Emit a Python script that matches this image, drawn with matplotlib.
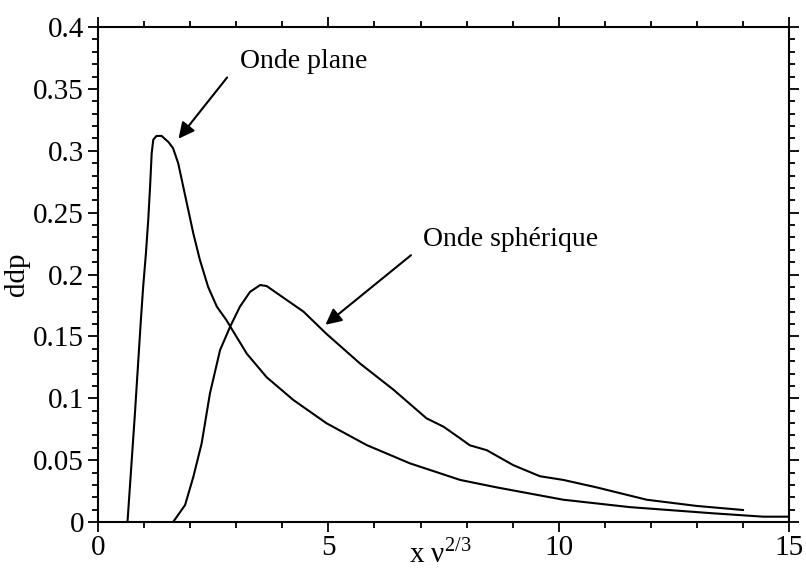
import matplotlib
matplotlib.use('Agg')
import matplotlib.pyplot as plt
from matplotlib.ticker import MultipleLocator, FuncFormatter

plt.rcParams['font.family'] = ['Liberation Serif', 'DejaVu Serif']
plt.rcParams['mathtext.fontset'] = 'custom'
plt.rcParams['mathtext.rm'] = 'Liberation Serif'

# Onde plane
x_plane = [0.64, 0.80, 0.93, 0.98, 1.04, 1.09, 1.13, 1.165, 1.20, 1.27, 1.38, 1.53, 1.63, 1.74,
           1.85, 1.96, 2.07, 2.21, 2.39, 2.58, 2.79, 2.87, 3.23, 3.66, 4.24, 4.96, 5.83, 6.77,
           7.21, 7.86, 8.65, 10.1, 11.55, 13.36, 14.44, 15.0]
y_plane = [0.0, 0.087, 0.163, 0.190, 0.217, 0.244, 0.271, 0.298, 0.309, 0.312, 0.312, 0.307, 0.302, 0.290,
           0.271, 0.252, 0.233, 0.212, 0.190, 0.174, 0.163, 0.158, 0.136, 0.117, 0.0986, 0.0798, 0.0622, 0.0474,
           0.042, 0.034, 0.028, 0.018, 0.012, 0.007, 0.0043, 0.0043]

# Onde spherique
x_sph = [1.63, 1.89, 2.07, 2.25, 2.43, 2.65, 2.87, 3.08, 3.30, 3.52, 3.66, 3.88, 4.46, 4.96,
         5.69, 6.41, 7.13, 7.50, 7.86, 8.07, 8.44, 9.01, 9.59, 10.1, 10.82, 11.91, 12.99, 14.0]
y_sph = [0.0, 0.0137, 0.0366, 0.0636, 0.104, 0.139, 0.158, 0.174, 0.186, 0.1915, 0.1907, 0.185, 0.170, 0.152,
         0.128, 0.107, 0.0838, 0.077, 0.0676, 0.062, 0.058, 0.046, 0.037, 0.034, 0.028, 0.018, 0.013, 0.0097]

fig = plt.figure(figsize=(8.06, 5.69), dpi=100)
ax = fig.add_axes([0.1216, 0.0826, 0.8574, 0.8699])

ax.plot(x_plane, y_plane, color='black', lw=1.5)
ax.plot(x_sph, y_sph, color='black', lw=1.5)

ax.set_xlim(0, 15)
ax.set_ylim(0, 0.4)

ax.xaxis.set_major_locator(MultipleLocator(5))
ax.xaxis.set_minor_locator(MultipleLocator(1))
ax.yaxis.set_major_locator(MultipleLocator(0.05))
ax.yaxis.set_minor_locator(MultipleLocator(0.01))
ax.yaxis.set_major_formatter(FuncFormatter(lambda v, p: '{:g}'.format(round(v, 2))))
ax.tick_params(which='both', direction='out', top=True, right=True, labelsize=21, width=1.3)
ax.tick_params(which='major', length=7)
ax.tick_params(which='minor', length=4)
ax.tick_params(axis='x', pad=2)
ax.tick_params(axis='y', pad=3)
for s in ax.spines.values():
    s.set_linewidth(1.5)

fig.text(440 / 806, 1 / 569, 'x ν$^{\\mathregular{2/3}}$', fontsize=21, ha='center', va='bottom')
ax.set_ylabel('ddp', fontsize=21, labelpad=2)

ax.text(3.08, 0.372, 'Onde plane', fontsize=20, va='center', ha='left')
ax.annotate('', xy=(1.71, 0.308), xytext=(2.84, 0.361),
            arrowprops=dict(arrowstyle='-|>', color='black', lw=1.5, mutation_scale=24))
ax.text(7.05, 0.228, 'Onde sphérique', fontsize=20, va='center', ha='left')
ax.annotate('', xy=(4.89, 0.158), xytext=(6.84, 0.217),
            arrowprops=dict(arrowstyle='-|>', color='black', lw=1.5, mutation_scale=24))

fig.savefig('out.png', dpi=100)
